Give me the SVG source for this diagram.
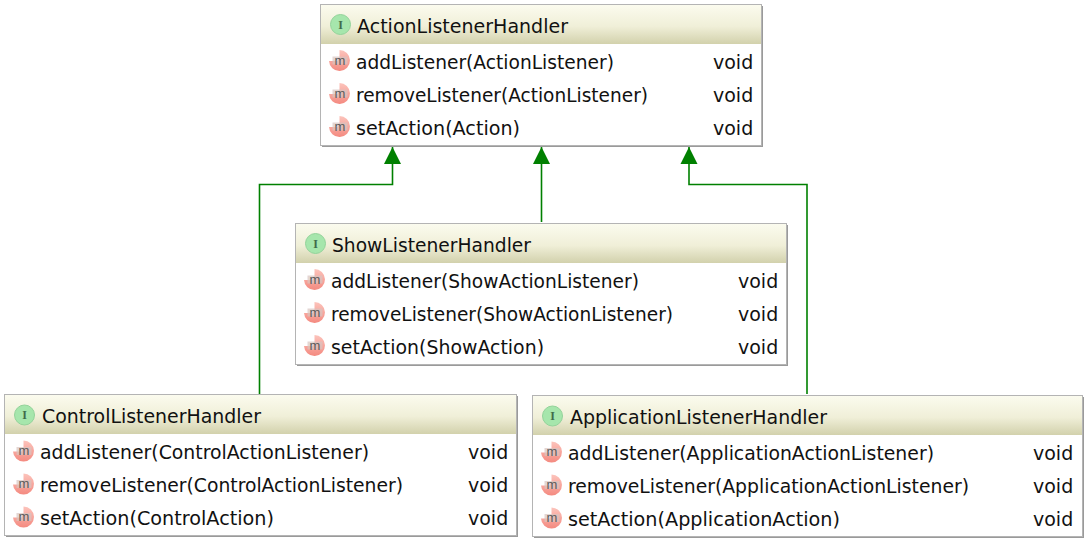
<svg xmlns="http://www.w3.org/2000/svg" width="1088" height="542" viewBox="0 0 1088 542">
<style>
.box{fill:#fff;stroke:#b4b4b4;stroke-width:1}
.shadow{fill:#9a9a9a}
text{font-family:"DejaVu Sans","Liberation Sans",sans-serif;fill:#111;font-size:19px}
.i{font-family:"Liberation Serif",serif;font-size:12px;font-weight:bold;fill:#3f6b4a;text-anchor:middle}
.m{font-family:"Liberation Sans",sans-serif;font-size:13px;fill:#5a5a5a;text-anchor:middle}
.edge{fill:none;stroke:#008000;stroke-width:1.6}
</style>
<defs>
<linearGradient id="hdr" x1="0" y1="0" x2="0" y2="1"><stop offset="0" stop-color="#fbfbee"/><stop offset="0.55" stop-color="#f0efd8"/><stop offset="1" stop-color="#d2d1ac"/></linearGradient>
<linearGradient id="red" x1="0" y1="0" x2="0" y2="1"><stop offset="0" stop-color="#fcc4bc"/><stop offset="1" stop-color="#f48a80"/></linearGradient>
<marker id="arrow" markerUnits="userSpaceOnUse" markerWidth="18" markerHeight="18" refX="17" refY="9" orient="auto"><path d="M0,0.500L17,9L0,17.500Z" fill="#008000"/></marker>
<g id="iconI"><circle cx="0" cy="0" r="10" fill="#a6e6ac" stroke="#93d39a" stroke-width="1"/><text class="i" x="0" y="4">I</text></g>
<g id="iconM"><path d="M0,-10.500A10.500,10.500,0,1,1,-10.500,0.500L-2,0.500L0,-3Z" fill="url(#red)"/><rect x="-7" y="-4" width="15" height="8" fill="#d8c4c0" opacity="0.7"/><text class="m" x="0.500" y="4">m</text></g>
</defs>
<g id="connectors">
<path class="edge" d="M259.500,394V184.500H392.500V147" marker-end="url(#arrow)"/>
<path class="edge" d="M541.500,222V147" marker-end="url(#arrow)"/>
<path class="edge" d="M807,394V184.500H689V147" marker-end="url(#arrow)"/>
</g>
<g id="ActionListenerHandler">
<rect class="shadow" x="322" y="6" width="441" height="141"/>
<rect class="box" x="320.500" y="4.500" width="441" height="141"/>
<rect x="321" y="5" width="440" height="39" fill="url(#hdr)"/>
<use href="#iconI" x="340.500" y="24.500"/><text x="357" y="33" textLength="211" lengthAdjust="spacingAndGlyphs">ActionListenerHandler</text>
<use href="#iconM" x="339.500" y="60.500"/><text x="356" y="69" textLength="258" lengthAdjust="spacingAndGlyphs">addListener(ActionListener)</text><text x="713" y="69">void</text>
<use href="#iconM" x="339.500" y="93.500"/><text x="356" y="102" textLength="292" lengthAdjust="spacingAndGlyphs">removeListener(ActionListener)</text><text x="713" y="102">void</text>
<use href="#iconM" x="339.500" y="126.500"/><text x="356" y="135" textLength="164" lengthAdjust="spacingAndGlyphs">setAction(Action)</text><text x="713" y="135">void</text>
</g>
<g id="ShowListenerHandler">
<rect class="shadow" x="297" y="225" width="491" height="141"/>
<rect class="box" x="295.500" y="223.500" width="491" height="141"/>
<rect x="296" y="224" width="490" height="39" fill="url(#hdr)"/>
<use href="#iconI" x="315.500" y="243.500"/><text x="332" y="252" textLength="199" lengthAdjust="spacingAndGlyphs">ShowListenerHandler</text>
<use href="#iconM" x="314.500" y="279.500"/><text x="331" y="288" textLength="308" lengthAdjust="spacingAndGlyphs">addListener(ShowActionListener)</text><text x="738" y="288">void</text>
<use href="#iconM" x="314.500" y="312.500"/><text x="331" y="321" textLength="342" lengthAdjust="spacingAndGlyphs">removeListener(ShowActionListener)</text><text x="738" y="321">void</text>
<use href="#iconM" x="314.500" y="345.500"/><text x="331" y="354" textLength="213" lengthAdjust="spacingAndGlyphs">setAction(ShowAction)</text><text x="738" y="354">void</text>
</g>
<g id="ControlListenerHandler">
<rect class="shadow" x="6" y="396" width="512" height="141"/>
<rect class="box" x="4.500" y="394.500" width="512" height="141"/>
<rect x="5" y="395" width="511" height="39" fill="url(#hdr)"/>
<use href="#iconI" x="24.500" y="415"/><text x="42" y="423" textLength="219" lengthAdjust="spacingAndGlyphs">ControlListenerHandler</text>
<use href="#iconM" x="23.500" y="451"/><text x="40" y="459" textLength="329" lengthAdjust="spacingAndGlyphs">addListener(ControlActionListener)</text><text x="468" y="459">void</text>
<use href="#iconM" x="23.500" y="484"/><text x="40" y="492" textLength="363" lengthAdjust="spacingAndGlyphs">removeListener(ControlActionListener)</text><text x="468" y="492">void</text>
<use href="#iconM" x="23.500" y="517"/><text x="40" y="525" textLength="234" lengthAdjust="spacingAndGlyphs">setAction(ControlAction)</text><text x="468" y="525">void</text>
</g>
<g id="ApplicationListenerHandler">
<rect class="shadow" x="534" y="397" width="550" height="141"/>
<rect class="box" x="532.500" y="395.500" width="550" height="141"/>
<rect x="533" y="396" width="549" height="39" fill="url(#hdr)"/>
<use href="#iconI" x="552.500" y="416"/><text x="570" y="424" textLength="257" lengthAdjust="spacingAndGlyphs">ApplicationListenerHandler</text>
<use href="#iconM" x="551.500" y="452"/><text x="568" y="460" textLength="366" lengthAdjust="spacingAndGlyphs">addListener(ApplicationActionListener)</text><text x="1033" y="460">void</text>
<use href="#iconM" x="551.500" y="485"/><text x="568" y="493" textLength="401" lengthAdjust="spacingAndGlyphs">removeListener(ApplicationActionListener)</text><text x="1033" y="493">void</text>
<use href="#iconM" x="551.500" y="518"/><text x="568" y="526" textLength="272" lengthAdjust="spacingAndGlyphs">setAction(ApplicationAction)</text><text x="1033" y="526">void</text>
</g>
</svg>
